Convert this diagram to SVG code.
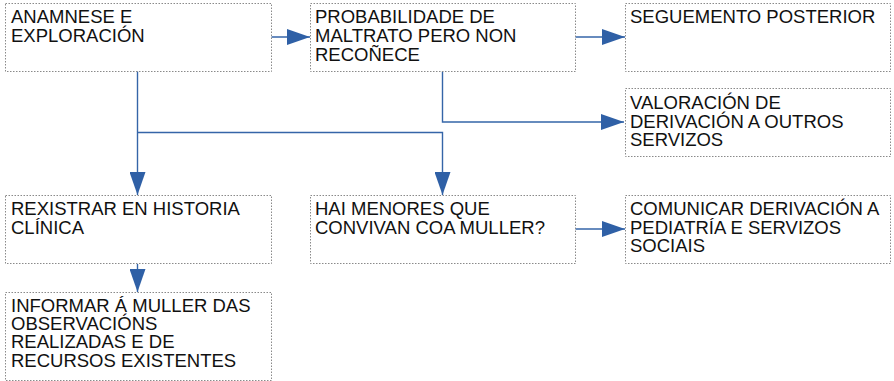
<svg xmlns="http://www.w3.org/2000/svg" width="894" height="381" viewBox="0 0 894 381">
<defs>
<style>
.box{fill:#fff;stroke:#8a8a8a;stroke-width:1;stroke-dasharray:1.5,1.5}
.t{font-family:"Liberation Sans",Arial,sans-serif;font-size:18.5px;fill:#111}
.c{fill:none;stroke:#3565a8;stroke-width:1.4}
</style>
<marker id="ah" markerUnits="userSpaceOnUse" markerWidth="24" markerHeight="16" refX="23" refY="8" orient="auto">
<path d="M0,0 L23,8 L0,16 z" fill="#2f60a6"/>
</marker>
</defs>
<rect width="894" height="381" fill="#fff"/>
<g id="connectors">
<path class="c" d="M271,37 H310" marker-end="url(#ah)"/>
<path class="c" d="M575,37 H625" marker-end="url(#ah)"/>
<path class="c" d="M442.5,71 V122 H624" marker-end="url(#ah)"/>
<path class="c" d="M137.5,71 V195" marker-end="url(#ah)"/>
<path class="c" d="M137.5,132.5 H442.5 V195" marker-end="url(#ah)"/>
<path class="c" d="M137.5,264 V292" marker-end="url(#ah)"/>
<path class="c" d="M575,229 H625" marker-end="url(#ah)"/>
</g>
<g id="n1">
<rect class="box" x="5.5" y="3.5" width="266" height="68"/>
<text class="t" x="11" y="22.5">ANAMNESE E</text>
<text class="t" x="11" y="41.5">EXPLORACIÓN</text>
</g>
<g id="n2">
<rect class="box" x="310.5" y="3.5" width="265" height="68"/>
<text class="t" x="315" y="22.5">PROBABILIDADE DE</text>
<text class="t" x="315" y="41.5">MALTRATO PERO NON</text>
<text class="t" x="315" y="60.5">RECOÑECE</text>
</g>
<g id="n3">
<rect class="box" x="625.5" y="3.5" width="265" height="68"/>
<text class="t" x="630" y="22.5">SEGUEMENTO POSTERIOR</text>
</g>
<g id="n4">
<rect class="box" x="625.5" y="88.5" width="265" height="68"/>
<text class="t" x="630" y="109">VALORACIÓN DE</text>
<text class="t" x="630" y="127.5">DERIVACIÓN A OUTROS</text>
<text class="t" x="630" y="146">SERVIZOS</text>
</g>
<g id="n5">
<rect class="box" x="5.5" y="195.5" width="266" height="68"/>
<text class="t" x="11" y="215">REXISTRAR EN HISTORIA</text>
<text class="t" x="11" y="233.5">CLÍNICA</text>
</g>
<g id="n6">
<rect class="box" x="5.5" y="292.5" width="266" height="88"/>
<text class="t" x="11" y="311.7">INFORMAR Á MULLER DAS</text>
<text class="t" x="11" y="330">OBSERVACIÓNS</text>
<text class="t" x="11" y="348.3">REALIZADAS E DE</text>
<text class="t" x="11" y="366.7">RECURSOS EXISTENTES</text>
</g>
<g id="n7">
<rect class="box" x="310.5" y="195.5" width="265" height="68"/>
<text class="t" x="315" y="215">HAI MENORES QUE</text>
<text class="t" x="315" y="233.5">CONVIVAN COA MULLER?</text>
</g>
<g id="n8">
<rect class="box" x="625.5" y="195.5" width="265" height="68"/>
<text class="t" x="630" y="215">COMUNICAR DERIVACIÓN A</text>
<text class="t" x="630" y="233.5">PEDIATRÍA E SERVIZOS</text>
<text class="t" x="630" y="252">SOCIAIS</text>
</g>
</svg>
